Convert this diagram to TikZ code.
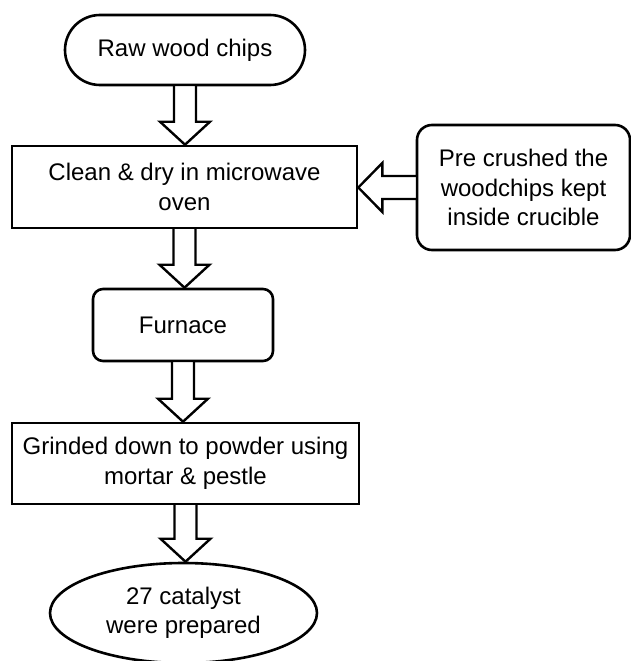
\documentclass[tikz,border=0pt]{standalone}
\usepackage{fontspec}
\setmainfont{Liberation Sans}
\usetikzlibrary{calc, positioning, shapes.geometric}

% flujo hueco hacia abajo entre dos nodos
\newcommand{\flowDown}[2]{%
  \draw[blockArrow] let \p1=(#1.south), \p2=(#2.north) in
    (\x1-11pt,\y1) -- (\x1-11pt,\y2+23pt) -- (\x1-25pt,\y2+23pt) -- (\x1,\y2)
    -- (\x1+25pt,\y2+23pt) -- (\x1+11pt,\y2+23pt) -- (\x1+11pt,\y1);}
% flujo hueco hacia la izquierda
\newcommand{\flowLeft}[2]{%
  \draw[blockArrow] let \p1=(#1.west), \p2=(#2.east) in
    (\x1,\y1+11.5pt) -- (\x2+24pt,\y1+11.5pt) -- (\x2+24pt,\y1+24.5pt) -- (\x2,\y1)
    -- (\x2+24pt,\y1-24.5pt) -- (\x2+24pt,\y1-11.5pt) -- (\x1,\y1-11.5pt);}

\tikzset{
  baseBox/.style={draw, line width=2.6pt, fill=white, inner sep=0pt, align=center,
    font=\fontsize{24}{29.5}\selectfont},
  startBox/.style={baseBox, rounded corners=35pt},
  processBox/.style={baseBox},
  softBox/.style={baseBox, rounded corners=#1},
  endBox/.style={baseBox, ellipse},
  blockArrow/.style={line width=2.4pt, line join=miter, fill=white}
}

\begin{document}
\begin{tikzpicture}[x=1pt, y=-1pt, line cap=round]
  \useasboundingbox (0,0) rectangle (631,661);

  % --- Nodos del proceso ---
  \node[startBox, minimum width=240, minimum height=70] (raw) at (185,50) {Raw wood chips};
  \node[processBox, minimum width=345, minimum height=82] (clean) at (184.5,187)
    {Clean \& dry in microwave\\oven};
  \node[softBox=15pt, minimum width=213, minimum height=125] (pre) at (523.5,187.5)
    {Pre crushed the\\woodchips kept\\inside crucible};
  \node[softBox=10pt, minimum width=180, minimum height=72] (furnace) at (183,325) {Furnace};
  \node[processBox, minimum width=347, minimum height=81] (grind) at (185.5,463.5)
    {Grinded down to powder using\\mortar \& pestle};
  \node[endBox, minimum width=267, minimum height=100] (cat) at (183.5,613)
    {27 catalyst\\were prepared};

  % --- Flechas ---
  \flowDown{raw}{clean}
  \flowDown{clean}{furnace}
  \flowDown{furnace}{grind}
  \flowDown{grind}{cat}
  \flowLeft{pre}{clean}
\end{tikzpicture}
\end{document}
